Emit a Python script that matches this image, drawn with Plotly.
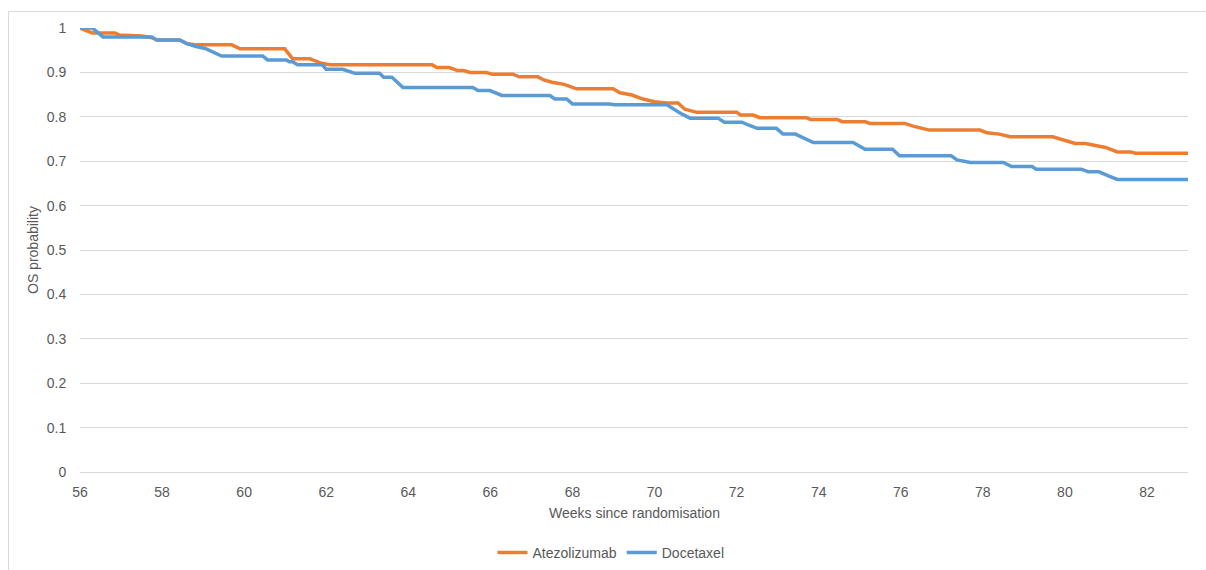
import plotly.graph_objects as go

# Kaplan-Meier overall survival, weeks 56-83 (corner points of each step)
atezo_weeks = [56.0, 56.3, 56.85, 56.96, 57.5, 57.75, 57.87, 58.43, 58.6, 58.83, 59.7, 59.9,
               60.99, 61.18, 61.6, 61.9, 62.1, 64.58, 64.7, 65.0, 65.2, 65.35, 65.5, 65.9,
               66.04, 66.55, 66.7, 67.16, 67.3, 67.5, 67.8, 67.95, 68.1, 68.99, 69.16, 69.45,
               69.72, 70.0, 70.3, 70.57, 70.74, 71.03, 72.0, 72.1, 72.4, 72.57, 73.7, 73.8,
               74.45, 74.57, 75.13, 75.25, 76.1, 76.3, 76.5, 76.7, 77.93, 78.1, 78.4, 78.67,
               79.7, 79.97, 80.25, 80.5, 80.78, 80.99, 81.28, 81.6, 81.72, 83.0]
atezo_os = [1.0, 0.989, 0.989, 0.984, 0.982, 0.978, 0.973, 0.973, 0.965, 0.962, 0.962, 0.953,
            0.953, 0.931, 0.931, 0.92, 0.917, 0.917, 0.911, 0.911, 0.904, 0.904, 0.9, 0.9,
            0.896, 0.896, 0.89, 0.89, 0.883, 0.878, 0.873, 0.868, 0.863, 0.863, 0.854, 0.849,
            0.84, 0.834, 0.831, 0.831, 0.817, 0.81, 0.81, 0.804, 0.804, 0.798, 0.798, 0.794,
            0.794, 0.789, 0.789, 0.785, 0.785, 0.779, 0.775, 0.77, 0.77, 0.764, 0.761, 0.755,
            0.755, 0.748, 0.74, 0.74, 0.734, 0.731, 0.721, 0.721, 0.718, 0.718]

doce_weeks = [56.0, 56.3, 56.56, 57.75, 57.87, 58.43, 58.6, 58.83, 59.05, 59.45, 60.45, 60.57,
              61.03, 61.1, 61.18, 61.3, 61.9, 62.0, 62.4, 62.7, 63.3, 63.4, 63.6, 63.87,
              65.57, 65.7, 65.99, 66.28, 67.45, 67.57, 67.86, 68.0, 68.9, 69.03, 70.3, 70.67,
              70.87, 71.55, 71.7, 72.13, 72.3, 72.5, 72.97, 73.13, 73.43, 73.7, 73.87, 74.84,
              75.13, 75.8, 75.97, 77.23, 77.37, 77.7, 78.5, 78.7, 79.2, 79.3, 80.4, 80.57,
              80.83, 81.06, 81.28, 83.0]
doce_os = [1.0, 1.0, 0.98, 0.98, 0.973, 0.973, 0.965, 0.958, 0.954, 0.937, 0.937, 0.928,
           0.928, 0.924, 0.924, 0.917, 0.917, 0.907, 0.907, 0.898, 0.898, 0.889, 0.889, 0.866,
           0.866, 0.859, 0.859, 0.848, 0.848, 0.84, 0.84, 0.829, 0.829, 0.827, 0.827, 0.806,
           0.797, 0.797, 0.788, 0.788, 0.781, 0.774, 0.774, 0.761, 0.761, 0.749, 0.742, 0.742,
           0.727, 0.727, 0.712, 0.712, 0.703, 0.697, 0.697, 0.688, 0.688, 0.682, 0.682, 0.676,
           0.676, 0.667, 0.659, 0.659]

FONT = "Liberation Sans, Arial, sans-serif"
TEXT = "#595959"
GRID = "#d9d9d9"

fig = go.Figure()
fig.add_trace(go.Scatter(x=atezo_weeks, y=atezo_os, mode="lines", name="Atezolizumab",
                         line=dict(color="#ED7D31", width=3.5)))
fig.add_trace(go.Scatter(x=doce_weeks, y=doce_os, mode="lines", name="Docetaxel",
                         line=dict(color="#5B9BD5", width=3.5)))

L, R, T, B = 80, 18, 28, 98
W, H = 1206, 570
pw, ph = W - L - R, H - T - B


def px_x(p):
    return (p - L) / pw


def px_y(p):
    return (H - B - p) / ph


fig.update_layout(
    width=W, height=H,
    margin=dict(l=L, r=R, t=T, b=B, autoexpand=False),
    paper_bgcolor="white", plot_bgcolor="white",
    font=dict(family=FONT, size=14, color=TEXT),
    showlegend=True,
    legend=dict(orientation="h", xref="container", yref="container",
                x=611 / W, xanchor="center", y=1 - 553 / H, yanchor="middle",
                font=dict(size=14, color=TEXT), bgcolor="rgba(0,0,0,0)", itemwidth=30),
    xaxis=dict(range=[56, 83], tick0=56, dtick=2, showgrid=False, zeroline=False,
               showline=False, ticks="outside", ticklen=7, tickcolor="rgba(0,0,0,0)",
               tickfont=dict(size=14, color=TEXT)),
    yaxis=dict(range=[0, 1], dtick=0.1, showgrid=True, gridcolor=GRID, gridwidth=1,
               zeroline=True, zerolinecolor=GRID, zerolinewidth=1, showline=False,
               ticks="outside", ticklen=10, tickcolor="rgba(0,0,0,0)",
               tickfont=dict(size=14, color=TEXT)),
    annotations=[
        dict(text="Weeks since randomisation", xref="paper", yref="paper",
             x=0.5, y=px_y(513), xanchor="center", yanchor="middle", showarrow=False,
             font=dict(size=14, color=TEXT)),
        dict(text="OS probability", xref="paper", yref="paper", textangle=-90,
             x=px_x(33), y=0.5, xanchor="center", yanchor="middle", showarrow=False,
             font=dict(size=14, color=TEXT)),
    ],
    shapes=[
        # chart-area frame: left and top edges
        dict(type="line", xref="paper", yref="paper", x0=px_x(8.5), x1=px_x(8.5),
             y0=px_y(600), y1=px_y(11.5), line=dict(color=GRID, width=1), layer="below"),
        dict(type="line", xref="paper", yref="paper", x0=px_x(8.5), x1=px_x(1240),
             y0=px_y(11.5), y1=px_y(11.5), line=dict(color=GRID, width=1), layer="below"),
    ],
)

fig.write_html("out.html")
